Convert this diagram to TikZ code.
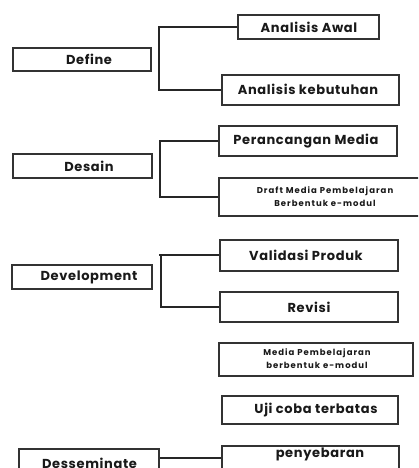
\documentclass[tikz,border=0pt]{standalone}
\usepackage{fontspec}
\setmainfont{Poppins}
\begin{document}
\begin{tikzpicture}[x=1pt,y=-1pt,
  box/.style={draw=black!80, line width=2pt, inner sep=0pt, rectangle},
  lbl/.style={font=\fontsize{13}{15}\selectfont\addfontfeature{LetterSpace=5}\bfseries, inner sep=0pt, text=black!90},
  small/.style={font=\fontsize{8.5}{13}\selectfont\addfontfeature{LetterSpace=12}\bfseries, inner sep=0pt, align=center, text=black!90},
  conn/.style={draw=black!85, line width=1.5pt}]
\clip (0,0) rectangle (418,468);
\fill[white] (0,0) rectangle (418,468);
% left boxes
\node[box, minimum width=138pt, minimum height=23pt] (define) at (82,59.5) {};
\node[box, minimum width=139pt, minimum height=24pt] (desain) at (82.5,166) {};
\node[box, minimum width=140pt, minimum height=24pt] (dev) at (82,277) {};
\node[box, minimum width=140pt, minimum height=41pt] (dess) at (89,469.5) {};
% right boxes
\node[box, minimum width=141pt, minimum height=24pt] (aw) at (308.5,27) {};
\node[box, minimum width=177pt, minimum height=30pt] (kb) at (310.5,90) {};
\node[box, minimum width=178pt, minimum height=30pt] (pm) at (308,141) {};
\node[box, minimum width=211pt, minimum height=38pt] (draft) at (324.5,197) {};
\node[box, minimum width=178pt, minimum height=31pt] (val) at (309,255) {};
\node[box, minimum width=178pt, minimum height=30pt] (rev) at (309,307) {};
\node[box, minimum width=194pt, minimum height=33pt] (media) at (316,359.5) {};
\node[box, minimum width=176pt, minimum height=28pt] (uji) at (310,410) {};
\node[box, minimum width=177pt, minimum height=44pt] (peny) at (310.5,468) {};
% texts
\node[lbl] (define-t) at (89,59) {Define};
\node[lbl] (desain-t) at (89,166) {Desain};
\node[lbl] (dev-t) at (89,277) {Development};
\node[lbl] (dess-t) at (89.5,463) {Desseminate};
\node[lbl] (aw-t) at (309,27) {Analisis Awal};
\node[lbl] (kb-t) at (308,89) {Analisis kebutuhan};
\node[lbl] (pm-t) at (306,141) {Perancangan Media};
\node[small] (draft-t) at (325,197) {Draft Media Pembelajaran\\Berbentuk e-modul};
\node[lbl] (val-t) at (306,255) {Validasi Produk};
\node[lbl] (rev-t) at (309,307) {Revisi};
\node[small] (media-t) at (317,359) {Media Pembelajaran\\berbentuk e-modul};
\node[lbl] (uji-t) at (316,410) {Uji coba terbatas};
\node[lbl] (peny-t) at (320,454) {penyebaran};
% brackets
\coordinate (b1) at (159,0);
\coordinate (b2) at (160,0);
\coordinate (b3) at (161,0);
\coordinate (b3t) at (158.5,0);
\draw[conn] (aw.west) -- (aw.west -| b1) -- (kb.west -| b1) -- (kb.west);
\draw[conn] (pm.west) -- (pm.west -| b2) -- (draft.west -| b2) -- (draft.west);
\draw[conn] (val.west) -- (val.west -| b3t);
\draw[conn] (val.west -| b3) -- (rev.west -| b3) -- (rev.west);
\coordinate (d1) at (dess.east |- 0,458);
\coordinate (d2) at (peny.west |- 0,458);
\draw[conn] (d1) -- (d2);
\end{tikzpicture}
\end{document}
